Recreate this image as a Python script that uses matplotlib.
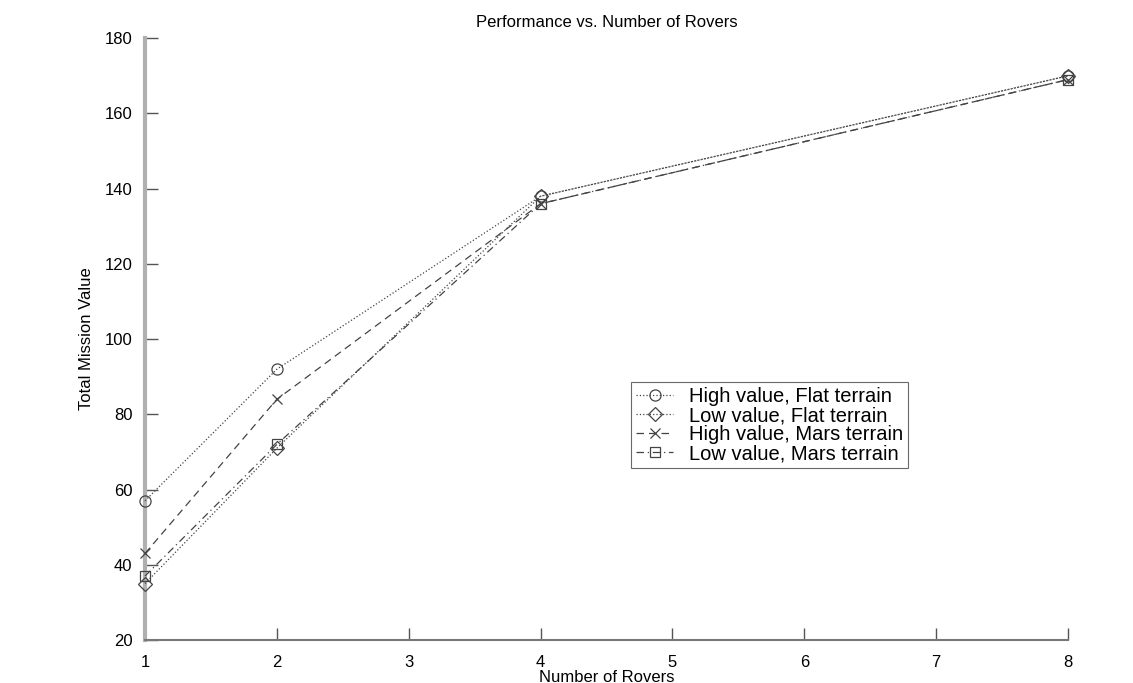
import matplotlib.pyplot as plt

rovers = [1, 2, 4, 8]
high_flat = [57, 92, 138, 170]
low_flat = [35, 71, 138, 170]
high_mars = [43, 84, 136, 169]
low_mars = [37, 72, 136, 169]

labels = ["High value, Flat terrain", "Low value, Flat terrain",
          "High value, Mars terrain", "Low value, Mars terrain"]

plt.rcParams['font.family'] = 'Liberation Sans'
plt.rcParams['font.size'] = 11

fig = plt.figure(figsize=(11.33, 6.83), dpi=100)
ax = fig.add_axes([0.128, 0.063, 0.8146, 0.881])

c = '#444444'
kw = dict(color=c, lw=0.9, mew=0.9, zorder=3, clip_on=False)
ax.plot(rovers, high_flat, ls=':', marker='o', ms=8, mfc='none',
        label=labels[0], **kw)
ax.plot(rovers, low_flat, ls=':', marker='D', ms=7, mfc='none',
        label=labels[1], **kw)
ax.plot(rovers, high_mars, ls=(0, (6, 4)), marker='x', ms=7,
        label=labels[2], **kw)
ax.plot(rovers, low_mars, ls=(0, (6, 3, 1, 3)), marker='s', ms=7, mfc='none',
        label=labels[3], **kw)

ax.set_xlim(1, 8)
ax.set_ylim(20, 180)
ax.set_xticks(range(1, 9))
ax.set_yticks(range(20, 181, 20))

for s in ['top', 'right']:
    ax.spines[s].set_visible(False)
ax.spines['left'].set_color('#b0b0b0')
ax.spines['left'].set_linewidth(3)
ax.spines['bottom'].set_color('#777777')
ax.spines['bottom'].set_linewidth(1.5)
ax.tick_params(direction='in', length=9, width=1, color='#555555',
               labelsize=12, pad=9)
ax.tick_params(axis='x', pad=11)

ax.set_title("Performance vs. Number of Rovers", fontsize=12, pad=8)
ax.set_xlabel("Number of Rovers", fontsize=12, labelpad=0)
ax.set_ylabel("Total Mission Value", fontsize=12, labelpad=8)

leg = ax.legend(loc='upper left', bbox_to_anchor=(0.527, 0.4286), fontsize=14.5,
                frameon=True, fancybox=False, edgecolor='#444444',
                handlelength=1.8, borderpad=0.25, labelspacing=0.0,
                handletextpad=0.8, borderaxespad=0)
leg.get_frame().set_linewidth(0.8)

fig.savefig('out.png', dpi=100, facecolor='white')
